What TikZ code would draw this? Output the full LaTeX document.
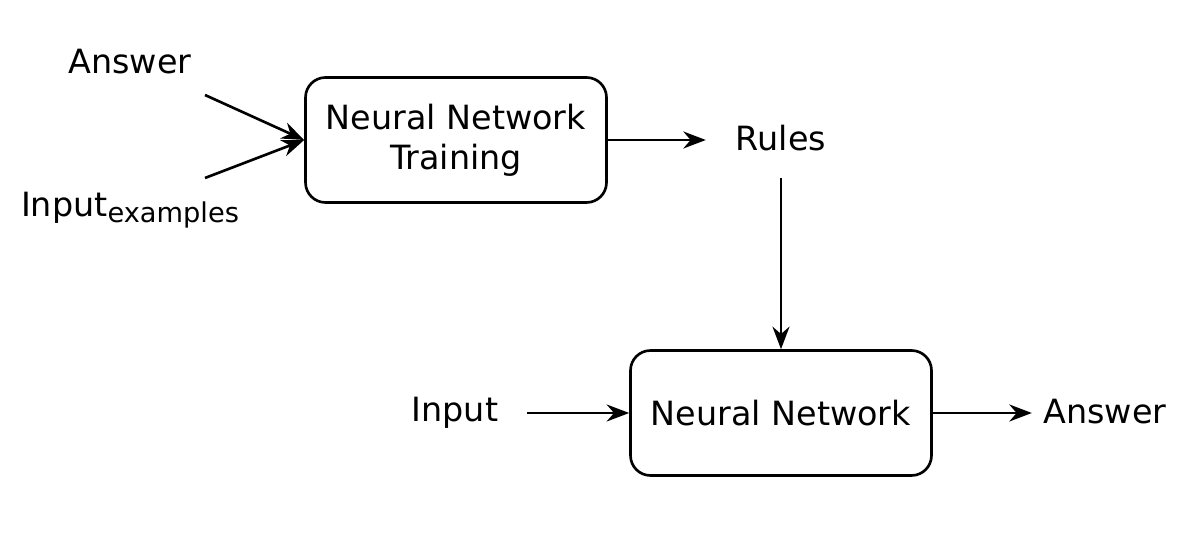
\documentclass[tikz,border=0pt]{standalone}
\usepackage{fontspec}
\setmainfont{DejaVu Sans}
\usetikzlibrary{positioning, arrows.meta}

\begin{document}
\begin{tikzpicture}[
      box/.style={draw, line width=1.5pt, rounded corners=0.4cm,
        align=center, font=\fontsize{19}{23}\selectfont,
        minimum width=6.02cm, minimum height=2.5cm},
      word/.style={font=\fontsize{19}{23}\selectfont},
      pfeil/.style={-{Stealth[length=4.5mm, width=3.4mm]}, line width=1.5pt}]
    \useasboundingbox (0,0) rectangle (23.66,-11.06);
    \node[box] (train) at (9.12,-2.8) {Neural Network\\Training};
    \node[box] (net) at (15.62,-8.26) {Neural Network};
    \node[word] (rules) at (15.62,-2.76) {Rules};
    \node[word] (input) at (9.1,-8.26) {Input};
    \node[word] (answer) at (22.1,-8.24) {Answer};
    \node[word] (given) at (2.6,-1.24) {Answer};
    \node[word] (examples) at (2.6,-4.2)
      {Input\raisebox{-0.35ex}{\fontsize{15.5}{18}\selectfont examples}};
    \coordinate (givenend) at (4.1,-1.9);
    \coordinate (examplesend) at (4.1,-3.56);
    \draw[pfeil] (givenend) -- (train.west);
    \draw[pfeil] (examplesend) -- (train.west);
    \draw[pfeil] (train.east) -- ++(1.96,0);
    \draw[pfeil] (rules.south) ++(0,-0.42) -- (net.north);
    \draw[pfeil] (input.east) ++(0.45,0) -- (net.west);
    \draw[pfeil] (net.east) -- ++(1.98,0);
  \end{tikzpicture}
\end{document}
